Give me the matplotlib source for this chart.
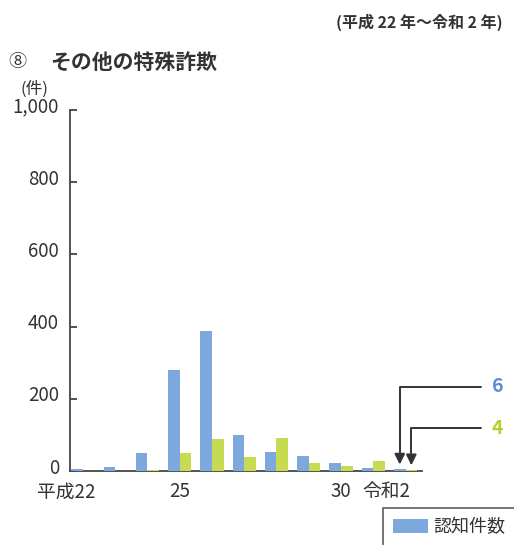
import matplotlib
matplotlib.use("Agg")
import matplotlib.pyplot as plt
import matplotlib.transforms as mtransforms
import numpy as np

plt.rcParams['font.family'] = ['Noto Sans CJK JP', 'DejaVu Sans']

# 平成22年〜令和2年
years = ['平成22', '23', '24', '25', '26', '27', '28', '29', '30', '令和元', '令和2']
ninchi = [6, 10, 50, 280, 388, 100, 53, 42, 23, 9, 6]     # 認知件数
kenkyo = [0, 0, 3, 50, 89, 39, 92, 22, 15, 28, 4]         # 検挙件数
tick_pos = [0, 3, 8, 10]
tick_text = ['平成22', '25', '30', '令和2']
y_ticks = [0, 200, 400, 600, 800, 1000]

W, H = 514, 545
fig = plt.figure(figsize=(W / 100, H / 100), dpi=100)
ax = fig.add_axes([70 / W, 1 - 471 / H, 352 / W, 361 / H])

blue = '#7ca8de'
green = '#c6db52'
x = np.arange(len(years))
bw = 0.36
b1 = ax.bar(x - bw / 2, ninchi, bw, color=blue, label='認知件数', zorder=3)
b2 = ax.bar(x + bw / 2, kenkyo, bw, color=green, zorder=3)

ax.set_xlim(-0.40, 10.51)
ax.set_ylim(0, 1000)
ax.set_yticks(y_ticks)
ax.set_yticklabels([f'{v:,}' for v in y_ticks], fontsize=13.5, color='#333333')
ax.tick_params(axis='y', direction='in', length=5, width=1.2, pad=8, colors='#333333')
for lab in ax.get_yticklabels():
    lab.set_verticalalignment('center')
    lab.set_transform(lab.get_transform() + mtransforms.ScaledTranslation(0, 3 / 100, fig.dpi_scale_trans))
ax.set_xticks([])
for s in ['top', 'right']:
    ax.spines[s].set_visible(False)
for s in ['left', 'bottom']:
    ax.spines[s].set_color('#444444')
    ax.spines[s].set_linewidth(1.3)
    ax.spines[s].set_zorder(2)

# x labels: the year number is centred under its group
for p, t in zip(tick_pos, tick_text):
    if t.startswith('平成'):
        off = 13
    elif t.startswith('令和'):
        off = 5
    else:
        off = 0
    tr = mtransforms.offset_copy(ax.get_xaxis_transform(), fig=fig, x=off, y=0, units='dots')
    ax.text(p, -0.058, t, transform=tr, ha='right' if off else 'center', va='center',
            fontsize=13.5, color='#333333')

# value callouts for the last year
arrow = dict(arrowstyle='-|>,head_length=0.45,head_width=0.22', color='#333333', lw=1.4,
             connectionstyle='angle,angleA=0,angleB=90,rad=0', shrinkA=6, shrinkB=3)
ax.annotate(str(ninchi[-1]), xy=(x[-1] - bw / 2, ninchi[-1]), xytext=(492, H - 387),
            textcoords='figure pixels', ha='left', va='center', fontsize=14,
            color='#5b8fd3', fontweight='bold', arrowprops=arrow, annotation_clip=False)
ax.annotate(str(kenkyo[-1]), xy=(x[-1] + bw / 2, kenkyo[-1]), xytext=(492, H - 428),
            textcoords='figure pixels', ha='left', va='center', fontsize=14,
            color='#b8ce2e', fontweight='bold', arrowprops=arrow, annotation_clip=False)

fig.text(503 / W, 1 - 22 / H, '(平成 22 年～令和 2 年)', ha='right', va='center',
         fontsize=11.5, color='#333333', fontweight='bold')
fig.text(8 / W, 1 - 62 / H, '⑧', ha='left', va='center', fontsize=13, color='#333333')
fig.text(50 / W, 1 - 62 / H, 'その他の特殊詐欺', ha='left', va='center',
         fontsize=15, color='#333333', fontweight='bold')
fig.text(20 / W, 1 - 89 / H, '(件)', ha='left', va='center', fontsize=12, color='#333333')

leg = fig.legend(handles=[b1], labels=['認知件数'], loc='upper left',
                 bbox_to_anchor=(383 / W, 1 - 508 / H), bbox_transform=fig.transFigure,
                 fancybox=False, frameon=True, edgecolor='#333333', fontsize=13,
                 borderaxespad=0, borderpad=0.55, handlelength=1.95, handleheight=0.8,
                 handletextpad=0.3)
leg.get_frame().set_linewidth(1.2)
for t in leg.get_texts():
    t.set_color('#333333')

fig.savefig('out.png', dpi=100)
